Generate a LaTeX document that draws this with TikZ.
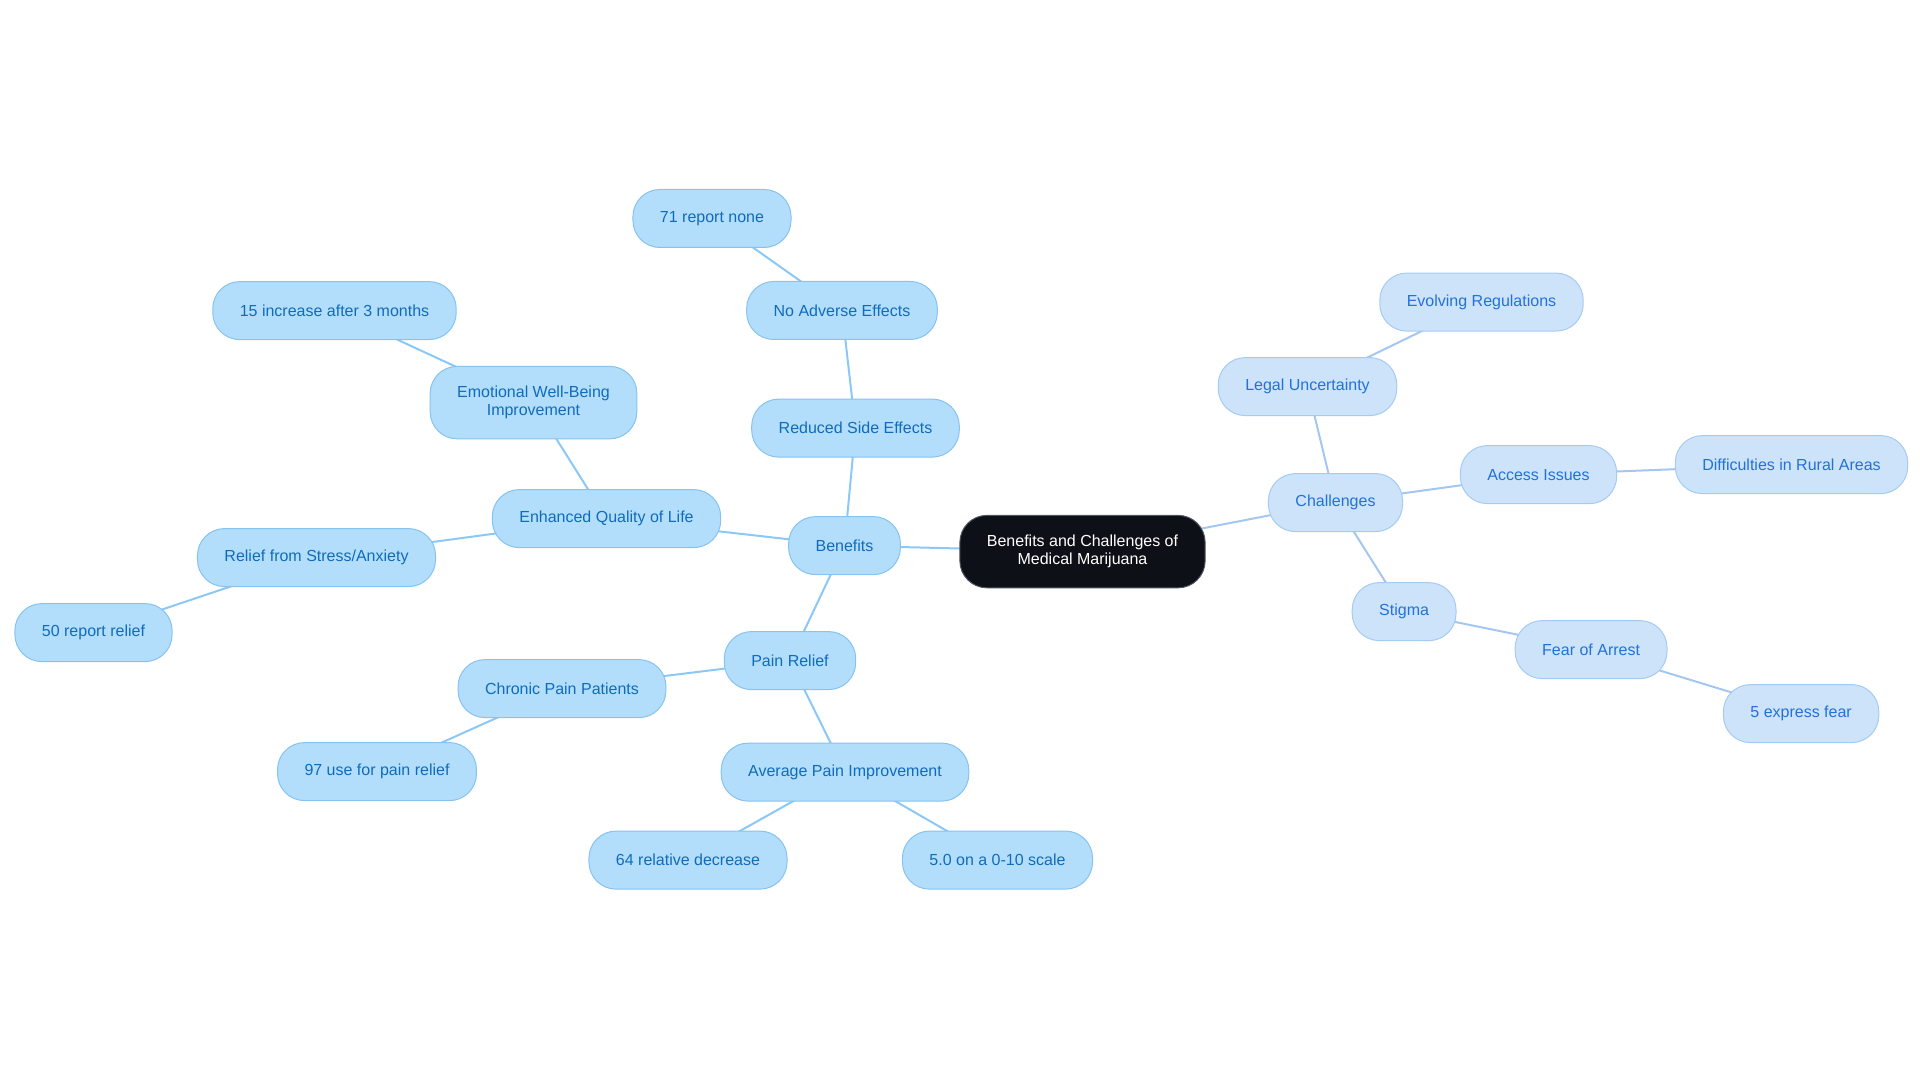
\documentclass[tikz,border=0pt]{standalone}
\usepackage{fontspec}
\setmainfont{Liberation Sans}
\usetikzlibrary{positioning,backgrounds}
\definecolor{benfill}{HTML}{B3DEFB}
\definecolor{benrim}{HTML}{86C3F0}
\definecolor{bentext}{HTML}{0F6CBD}
\definecolor{benwire}{HTML}{8CC8F5}
\definecolor{chalfill}{HTML}{CCE3FA}
\definecolor{chalrim}{HTML}{A6CBF3}
\definecolor{chaltext}{HTML}{2272D9}
\definecolor{chalwire}{HTML}{A3C7F0}
\definecolor{hubfill}{HTML}{0D1117}
\definecolor{hubrim}{HTML}{4B5563}

\begin{document}
\begin{tikzpicture}[on grid,
   every node/.style={font=\fontsize{16}{17.5}\selectfont,align=center,
      rounded corners=27pt,inner xsep=27pt,inner ysep=20pt,
      minimum height=58pt,line width=1pt},
   hub/.style={draw=hubrim,fill=hubfill,text=white},
   ben/.style={draw=benrim,fill=benfill,text=bentext},
   chal/.style={draw=chalrim,fill=chalfill,text=chaltext},
   benlink/.style={draw=benwire,line width=2pt},
   challink/.style={draw=chalwire,line width=2pt}]
   \useasboundingbox (0,0) rectangle (1920pt,-1083pt);
   \node[hub] (root) at (1082.5pt,-551.6pt) {Benefits and Challenges of\\Medical Marijuana};
   % benefits side
   \node[ben] (benefits) [above left=6pt and 238pt of root] {Benefits};
   \node[ben] (reduced) [above right=117.5pt and 11pt of benefits] {Reduced Side Effects};
   \node[ben] (noadverse) [above left=117.6pt and 13.5pt of reduced] {No Adverse Effects};
   \node[ben] (none71) [above left=92pt and 130pt of noadverse] {71 report none};
   \node[ben] (quality) [above left=27pt and 238pt of benefits] {Enhanced Quality of Life};
   \node[ben] (emotional) [above left=116pt and 73pt of quality] {Emotional Well-Being\\Improvement};
   \node[ben] (inc15) [above left=92pt and 199pt of emotional] {15 increase after 3 months};
   \node[ben] (stress) [below left=39pt and 290pt of quality] {Relief from Stress/Anxiety};
   \node[ben] (relief50) [below left=75pt and 223pt of stress] {50 report relief};
   \node[ben] (pain) [below left=115pt and 54.5pt of benefits] {Pain Relief};
   \node[ben] (chronic) [below left=28pt and 228pt of pain] {Chronic Pain Patients};
   \node[ben] (use97) [below left=83pt and 185pt of chronic] {97 use for pain relief};
   \node[ben] (average) [below right=111.5pt and 55pt of pain] {Average Pain Improvement};
   \node[ben] (dec64) [below left=88pt and 157pt of average] {64 relative decrease};
   \node[ben] (scale) [below right=88pt and 152.5pt of average] {5.0 on a 0-10 scale};
   % challenges side
   \node[chal] (challenges) [above right=49pt and 253pt of root] {Challenges};
   \node[chal] (legal) [above left=116pt and 28pt of challenges] {Legal Uncertainty};
   \node[chal] (evolving) [above right=84.5pt and 174pt of legal] {Evolving Regulations};
   \node[chal] (access) [above right=28pt and 203pt of challenges] {Access Issues};
   \node[chal] (rural) [above right=10pt and 253pt of access] {Difficulties in Rural Areas};
   \node[chal] (stigma) [below right=109pt and 68.6pt of challenges] {Stigma};
   \node[chal] (arrest) [below right=38pt and 187pt of stigma] {Fear of Arrest};
   \node[chal] (fear5) [below right=64pt and 210pt of arrest] {5 express fear};
   % links, behind the boxes
   \begin{scope}[on background layer]
   \path[benlink]
   (root.center) edge (benefits.center)
   (benefits.center) edge (reduced.center)
                     edge (quality.center)
                     edge (pain.center)
   (reduced.center) edge (noadverse.center)
   (noadverse.center) edge (none71.center)
   (quality.center) edge (emotional.center)
                    edge (stress.center)
   (emotional.center) edge (inc15.center)
   (stress.center) edge (relief50.center)
   (pain.center) edge (chronic.center)
                 edge (average.center)
   (chronic.center) edge (use97.center)
   (average.center) edge (dec64.center)
                    edge (scale.center);
   \path[challink]
   (root.center) edge (challenges.center)
   (challenges.center) edge (legal.center)
                       edge (access.center)
                       edge (stigma.center)
   (legal.center) edge (evolving.center)
   (access.center) edge (rural.center)
   (stigma.center) edge (arrest.center)
   (arrest.center) edge (fear5.center);
   \end{scope}
\end{tikzpicture}
\end{document}
